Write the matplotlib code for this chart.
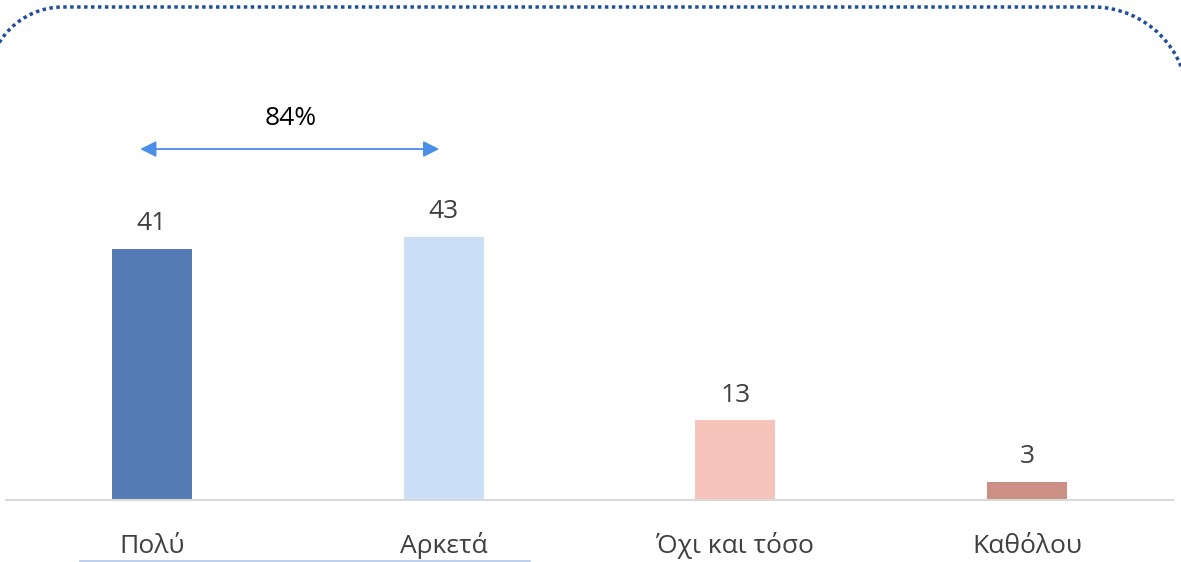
import matplotlib.pyplot as plt
from matplotlib.path import Path
from matplotlib.patches import PathPatch
from matplotlib.transforms import Affine2D
import numpy as np

categories = ["Πολύ", "Αρκετά", "Όχι και τόσο", "Καθόλου"]
values = [41, 43, 13, 3]
colors = ["#547bb4", "#cadff7", "#f6c4ba", "#cb8f84"]
sum_label = "84%"

W, H = 1181, 562
plt.rcParams['font.family'] = ['Open Sans', 'DejaVu Sans']

fig = plt.figure(figsize=(W / 100, H / 100), dpi=100)
ax = fig.add_axes([6 / W, (H - 500) / H, 1167 / W, 490 / H])

x = np.arange(len(categories))
ax.bar(x, values, width=0.275, color=colors, zorder=2)
for xi, v in zip(x, values):
    ax.text(xi, v + 3.0, str(v), ha="center", va="baseline", fontsize=19, color="#404040")

# category labels, placed by hand so the baselines line up
for xi, c in zip(x, categories):
    ax.text(xi, -8.6, c, ha="center", va="baseline", fontsize=19, color="#404040", clip_on=False)

ax.set_xlim(-0.5, 3.5)
ax.set_ylim(0, 80)
ax.set_xticks([])
ax.set_yticks([])
for s in ["top", "right", "left"]:
    ax.spines[s].set_visible(False)
ax.spines["bottom"].set_color("#d9d9d9")
ax.spines["bottom"].set_linewidth(1.5)

# bracket arrow over the first two bars
ax.annotate("", xy=(-0.04, 57.3), xytext=(0.985, 57.3),
            arrowprops=dict(arrowstyle="<|-|>", color="#4a8ee8", lw=1.3,
                            mutation_scale=24, shrinkA=0, shrinkB=0))
ax.text(0.475, 61.2, sum_label, ha="center", va="baseline", fontsize=19, color="black")

# dotted rounded frame (only the top is visible), in pixel coords
k = 0.5523
rl, rr = 75, 95
xl, xr, yt = -12, 1188, 7
verts = [
    (xl, 200), (xl, yt + rl),
    (xl, yt + rl - k * rl), (xl + rl - k * rl, yt), (xl + rl, yt),
    (xr - rr, yt),
    (xr - rr + k * rr, yt), (xr, yt + rr - k * rr), (xr, yt + rr),
    (xr, 200),
]
codes = [Path.MOVETO, Path.LINETO,
         Path.CURVE4, Path.CURVE4, Path.CURVE4,
         Path.LINETO,
         Path.CURVE4, Path.CURVE4, Path.CURVE4,
         Path.LINETO]
pix = Affine2D().scale(1 / W, -1 / H).translate(0, 1) + fig.transFigure
frame = PathPatch(Path(verts, codes), fill=False, edgecolor="#1f4e9c",
                  lw=2.5, linestyle=(0, (1, 1.0)), transform=pix)
fig.patches.append(frame)

# faint line under the first two labels
fig.lines.append(plt.Line2D([80, 530], [561, 561], color="#b4c7e7", lw=1.2, transform=pix))

fig.savefig("out.png", dpi=100)
